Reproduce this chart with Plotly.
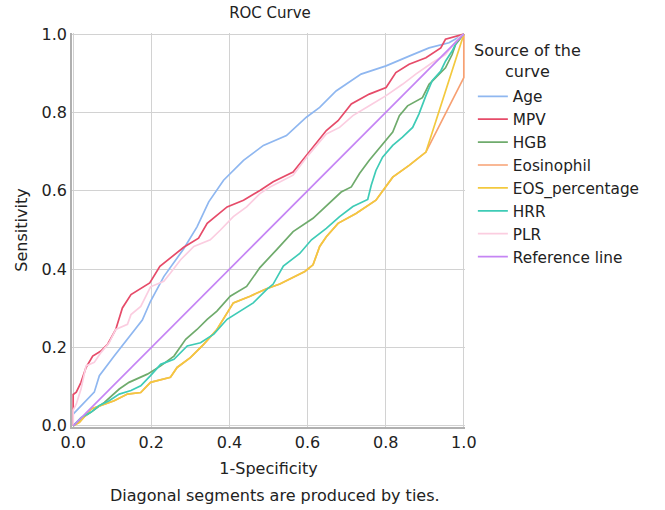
import plotly.graph_objects as go

# ---- data ----
age_x = [0, 0, 0.054, 0.067, 0.105, 0.118, 0.177, 0.198, 0.232, 0.283, 0.317, 0.347, 0.385, 0.436, 0.470, 0.487,
         0.546, 0.597, 0.631, 0.673, 0.737, 0.801, 0.860, 0.911, 0.962, 1.0]
age_y = [0, 0.03, 0.086, 0.128, 0.178, 0.195, 0.27, 0.318, 0.381, 0.452, 0.508, 0.572, 0.627, 0.678, 0.703, 0.716,
         0.741, 0.788, 0.813, 0.855, 0.898, 0.919, 0.944, 0.965, 0.978, 1.0]

mpv_x = [0, 0, 0.008, 0.02, 0.033, 0.05, 0.071, 0.088, 0.109, 0.126, 0.148, 0.196, 0.222, 0.249, 0.283, 0.321,
         0.343, 0.394, 0.436, 0.478, 0.512, 0.563, 0.601, 0.648, 0.678, 0.712, 0.758, 0.801, 0.826, 0.860, 0.903,
         0.941, 0.953, 0.983, 1.0]
mpv_y = [0, 0.08, 0.086, 0.111, 0.149, 0.178, 0.191, 0.208, 0.246, 0.301, 0.335, 0.365, 0.407, 0.428, 0.456, 0.479,
         0.517, 0.559, 0.576, 0.601, 0.623, 0.648, 0.695, 0.754, 0.779, 0.822, 0.847, 0.864, 0.902, 0.923, 0.940,
         0.965, 0.987, 0.995, 1.0]

hgb_x = [0, 0.02, 0.046, 0.08, 0.118, 0.143, 0.19, 0.224, 0.258, 0.288, 0.317, 0.343, 0.368, 0.402, 0.444, 0.478,
         0.521, 0.563, 0.614, 0.656, 0.686, 0.712, 0.733, 0.758, 0.792, 0.818, 0.835, 0.856, 0.894, 0.911, 0.928,
         0.953, 0.970, 0.979, 1.0]
hgb_y = [0, 0.018, 0.035, 0.06, 0.094, 0.111, 0.132, 0.153, 0.178, 0.221, 0.246, 0.272, 0.293, 0.331, 0.356, 0.404,
         0.45, 0.496, 0.53, 0.568, 0.597, 0.61, 0.644, 0.678, 0.72, 0.75, 0.792, 0.817, 0.838, 0.872, 0.889,
         0.914, 0.948, 0.974, 1.0]

eosin_x = [0, 0.016, 0.046, 0.071, 0.105, 0.139, 0.173, 0.198, 0.249, 0.266, 0.3, 0.334, 0.368, 0.41, 0.453, 0.495,
           0.529, 0.593, 0.614, 0.631, 0.648, 0.678, 0.724, 0.775, 0.818, 0.86, 0.903, 1.0, 1.0]
eosin_y = [0, 0.009, 0.043, 0.052, 0.064, 0.081, 0.085, 0.111, 0.124, 0.149, 0.174, 0.208, 0.246, 0.314, 0.331, 0.35,
           0.362, 0.394, 0.411, 0.458, 0.483, 0.517, 0.542, 0.576, 0.635, 0.665, 0.699, 0.889, 1.0]

eosp_x = [0, 0.016, 0.046, 0.071, 0.105, 0.139, 0.173, 0.198, 0.249, 0.266, 0.3, 0.334, 0.368, 0.41, 0.453, 0.495,
          0.529, 0.593, 0.614, 0.631, 0.648, 0.678, 0.724, 0.775, 0.818, 0.86, 0.903, 1.0]
eosp_y = [0, 0.009, 0.043, 0.052, 0.064, 0.081, 0.085, 0.111, 0.124, 0.149, 0.174, 0.208, 0.246, 0.314, 0.331, 0.35,
          0.362, 0.394, 0.411, 0.458, 0.483, 0.517, 0.542, 0.576, 0.635, 0.665, 0.699, 1.0]

hrr_x = [0, 0.02, 0.046, 0.067, 0.092, 0.118, 0.148, 0.173, 0.198, 0.224, 0.258, 0.292, 0.326, 0.36, 0.394, 0.427,
         0.461, 0.495, 0.512, 0.538, 0.58, 0.61, 0.648, 0.682, 0.716, 0.754, 0.763, 0.775, 0.792, 0.818, 0.843,
         0.869, 0.885, 0.903, 0.919, 0.941, 0.953, 0.970, 0.987, 1.0]
hrr_y = [0, 0.021, 0.035, 0.052, 0.064, 0.081, 0.09, 0.102, 0.128, 0.157, 0.17, 0.204, 0.212, 0.234, 0.272, 0.293,
         0.314, 0.348, 0.362, 0.408, 0.44, 0.475, 0.504, 0.534, 0.56, 0.578, 0.614, 0.652, 0.686, 0.716, 0.737,
         0.762, 0.796, 0.843, 0.881, 0.906, 0.931, 0.957, 0.991, 1.0]

plr_x = [0, 0, 0.008, 0.02, 0.033, 0.054, 0.071, 0.092, 0.109, 0.139, 0.148, 0.173, 0.198, 0.232, 0.249, 0.275,
         0.309, 0.351, 0.377, 0.41, 0.444, 0.478, 0.504, 0.563, 0.601, 0.648, 0.682, 0.716, 0.758, 0.801, 0.843,
         0.877, 0.919, 0.953, 0.987, 1.0]
plr_y = [0, 0.04, 0.056, 0.094, 0.153, 0.162, 0.187, 0.212, 0.246, 0.259, 0.284, 0.305, 0.355, 0.369, 0.39, 0.424,
         0.458, 0.475, 0.5, 0.534, 0.559, 0.593, 0.61, 0.64, 0.69, 0.745, 0.762, 0.792, 0.817, 0.843, 0.872,
         0.898, 0.927, 0.948, 0.991, 1.0]

ref_x = [0, 1]
ref_y = [0, 1]

series = [
    ("Age", age_x, age_y, "#8fb7f0"),
    ("MPV", mpv_x, mpv_y, "#e64b69"),
    ("HGB", hgb_x, hgb_y, "#6fab6c"),
    ("Eosinophil", eosin_x, eosin_y, "#f7a072"),
    ("EOS_percentage", eosp_x, eosp_y, "#f3c93e"),
    ("HRR", hrr_x, hrr_y, "#3ecbb6"),
    ("PLR", plr_x, plr_y, "#fbcde0"),
    ("Reference line", ref_x, ref_y, "#c585f4"),
]

tick_vals = [0, 0.2, 0.4, 0.6, 0.8, 1.0]
tick_text = ["0.0", "0.2", "0.4", "0.6", "0.8", "1.0"]

FONT = "DejaVu Sans"

fig = go.Figure()
for name, xs, ys, col in series:
    fig.add_trace(go.Scatter(x=xs, y=ys, mode="lines", name=name,
                             line=dict(color=col, width=1.7)))

axis_common = dict(range=[-0.003, 1.003], tickvals=tick_vals, ticktext=tick_text,
                   showgrid=True, gridcolor="#d2d2d2", gridwidth=1.3, zeroline=False,
                   showline=True, linecolor="#b0b0b0", linewidth=1.5, ticks="",
                   tickfont=dict(family=FONT, size=16, color="#222"))

fig.update_layout(
    width=665, height=510,
    margin=dict(l=72, r=200, t=33, b=83),
    plot_bgcolor="white", paper_bgcolor="white",
    font=dict(family=FONT, size=16, color="#222"),
    title=dict(text="ROC Curve", x=(270 - 0) / 665, xanchor="center", y=1 - 13 / 510, yanchor="middle",
               font=dict(family=FONT, size=15, color="#222")),
    xaxis=dict(**axis_common, title=dict(text="1-Specificity", standoff=12,
                                         font=dict(family=FONT, size=16, color="#222"))),
    yaxis=dict(**axis_common, title=dict(text="Sensitivity", standoff=10,
                                         font=dict(family=FONT, size=16, color="#222"))),
    showlegend=True,
    legend=dict(x=1.02, xanchor="left", y=0.881, yanchor="top", itemwidth=30,
                font=dict(family=FONT, size=15.3, color="#222"),
                bgcolor="rgba(0,0,0,0)", borderwidth=0, tracegroupgap=0),
    annotations=[
        dict(text="Source of the<br>curve", xref="paper", yref="paper",
             x=(527 - 72) / 393, y=(427 - 61) / 394, xanchor="center", yanchor="middle",
             align="center", showarrow=False, font=dict(family=FONT, size=16, color="#222")),
        dict(text="Diagonal segments are produced by ties.", xref="paper", yref="paper",
             x=(275 - 72) / 393, y=(427 - 495) / 394, xanchor="center", yanchor="middle",
             showarrow=False, font=dict(family=FONT, size=16, color="#222")),
    ],
)

fig.write_html("out.html")
